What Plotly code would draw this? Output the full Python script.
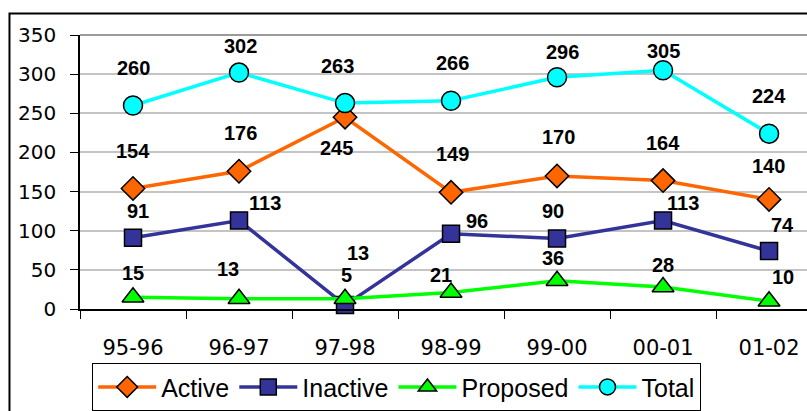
import plotly.graph_objects as go

# Membership counts by school year
years = ["95-96", "96-97", "97-98", "98-99", "99-00", "00-01", "01-02"]
active = [154, 176, 245, 149, 170, 164, 140]
inactive = [91, 113, 5, 96, 90, 113, 74]
proposed = [15, 13, 13, 21, 36, 28, 10]
total = [260, 302, 263, 266, 296, 305, 224]
y_ticks = [0, 50, 100, 150, 200, 250, 300, 350]

# Pixel nudges for the value labels (dx right, dy up)
active_shift = [(0, 37), (1, 38), (-9, -31), (1, 38), (1, 39), (0, 38), (-1, 33)]
inactive_shift = [(5, 27), (26, 18), (1, 30), (26, 13), (-4, 28), (20, 18), (13, 26)]
proposed_shift = [(0, 24), (-11, 30), (13, 46), (-10, 18), (-4, 23), (0, 22), (14, 24)]
total_shift = [(0, 37), (1, 27), (-8, 37), (1, 38), (5, 25), (0, 19), (0, 38)]

series = [
    ("Active", active, "#FF6600", "diamond", 18, active_shift),
    ("Inactive", inactive, "#333399", "square", 17, inactive_shift),
    ("Proposed", proposed, "#00FF00", "triangle-up", 19, proposed_shift),
    ("Total", total, "#00FFFF", "circle", 19, total_shift),
]

fig = go.Figure()
annotations = []
for name, vals, color, symbol, size, shifts in series:
    fig.add_trace(go.Scatter(
        x=years, y=vals, name=name, mode="lines+markers",
        line=dict(color=color, width=3.5),
        marker=dict(symbol=symbol, size=size, color=color,
                    line=dict(color="black", width=1.5)),
        cliponaxis=False,
    ))
    for xv, yv, (dx, dy) in zip(years, vals, shifts):
        annotations.append(dict(
            x=xv, y=yv, text=str(yv), showarrow=False,
            xshift=dx, yshift=dy,
            font=dict(family="Liberation Sans", size=20, color="black", weight="bold"),
        ))

fig.update_layout(
    width=807, height=411,
    margin=dict(l=80, r=0, t=35, b=102),
    paper_bgcolor="white", plot_bgcolor="white",
    showlegend=True,
    legend=dict(
        orientation="h", x=0.0165, y=-0.197, xanchor="left", yanchor="top",
        bordercolor="black", borderwidth=1.2,
        font=dict(family="Liberation Sans", size=25, color="black"),
        itemwidth=58, tracegroupgap=0,
    ),
    annotations=annotations,
    xaxis=dict(
        type="category", range=[-0.5, 6.358],
        tickson="boundaries", ticks="outside", ticklen=8, tickcolor="black",
        showline=True, linecolor="black", linewidth=1.5,
        showgrid=False, ticklabelstandoff=19,
        tickfont=dict(family="DejaVu Sans", size=21, color="black"),
    ),
    yaxis=dict(
        range=[0, 350], tickvals=y_ticks,
        ticks="outside", ticklen=8, tickcolor="black",
        showline=True, linecolor="black", linewidth=1.5,
        showgrid=True, gridcolor="#c4c4c4", gridwidth=2,
        zeroline=False, ticklabelstandoff=10,
        tickfont=dict(family="DejaVu Sans", size=20, color="black"),
    ),
    shapes=[
        # darker rule along the top of the plot area
        dict(type="line", xref="paper", yref="paper", x0=0, x1=1, y0=1, y1=1,
             line=dict(color="#9a9a9a", width=2), layer="below"),
        # chart-area frame
        dict(type="rect", xref="paper", yref="paper",
             x0=-0.097, x1=1.05, y0=-0.6, y1=1.0785,
             line=dict(color="black", width=2), layer="below"),
    ],
)

fig.write_html("out.html")
